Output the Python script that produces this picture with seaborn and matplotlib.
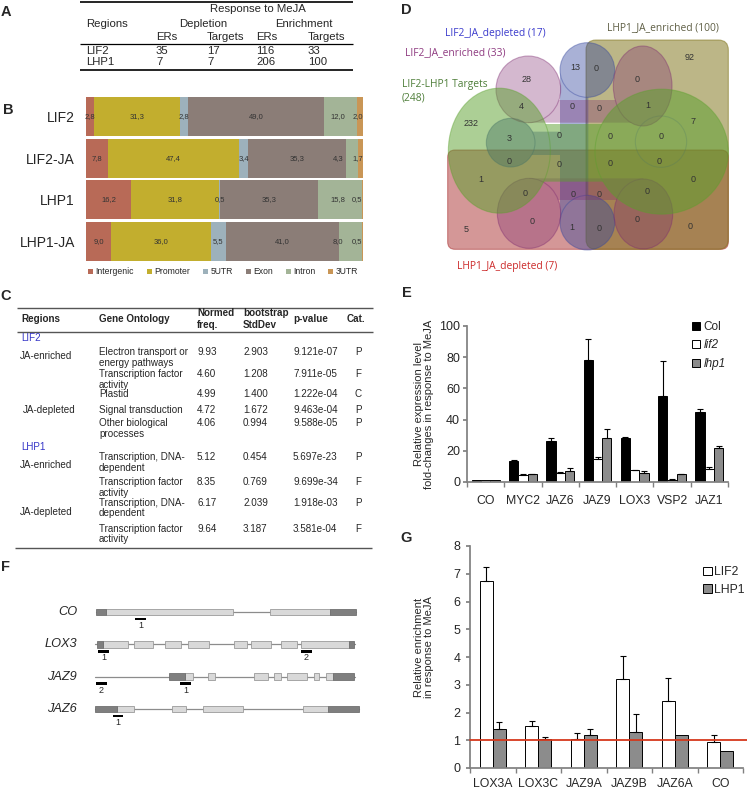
import numpy as np
import pandas as pd
import matplotlib
matplotlib.use("Agg")
import matplotlib.pyplot as plt
import seaborn as sns
from matplotlib.patches import Patch, Rectangle, FancyBboxPatch, PathPatch
from matplotlib.path import Path
from matplotlib.transforms import Affine2D

# ---------------- data ----------------
# A: enriched regions table
a_regions = ["LIF2", "LHP1"]
a_depl_ers = [35, 7]
a_depl_targets = [17, 7]
a_enr_ers = [116, 206]
a_enr_targets = [33, 100]

# B: genomic distribution (%)
b_samples = ["LIF2", "LIF2-JA", "LHP1", "LHP1-JA"]
b_features = ["Intergenic", "Promoter", "5UTR", "Exon", "Intron", "3UTR"]
b_intergenic = [2.8, 7.8, 16.2, 9.0]
b_promoter = [31.3, 47.4, 31.8, 36.0]
b_utr5 = [2.8, 3.4, 0.5, 5.5]
b_exon = [49.0, 35.3, 35.3, 41.0]
b_intron = [12.0, 4.3, 15.8, 8.0]
b_utr3 = [2.0, 1.7, 0.5, 0.5]
b_colors = ["#b86a57", "#c2ae2e", "#9db1bb", "#8b7d77", "#a3b497", "#c99656"]

# C: gene ontology table
c_groups = ["LIF2", "LHP1"]
c_subsets = ["JA-enriched", "JA-depleted", "JA-enriched", "JA-depleted"]
c_terms = ["Electron transport or\nenergy pathways", "Transcription factor\nactivity",
           "Plastid", "Signal transduction", "Other biological\nprocesses",
           "Transcription, DNA-\ndependent", "Transcription factor\nactivity",
           "Transcription, DNA-\ndependent", "Transcription factor\nactivity"]
c_normed = [9.93, 4.60, 4.99, 4.72, 4.06, 5.12, 8.35, 6.17, 9.64]
c_stddev = [2.903, 1.208, 1.400, 1.672, 0.994, 0.454, 0.769, 2.039, 3.187]
c_pvalue = [9.121e-07, 7.911e-05, 1.222e-04, 9.463e-04, 9.588e-05,
            5.697e-23, 9.699e-34, 1.918e-03, 3.581e-04]
c_cat = ["P", "F", "C", "P", "P", "P", "F", "P", "F"]

# D: venn diagram
venn_sets = ["LIF2_JA_depleted (17)", "LIF2_JA_enriched (33)", "LIF2-LHP1 Targets\n(248)",
             "LHP1_JA_enriched (100)", "LHP1_JA_depleted (7)"]
venn_counts = [13, 0, 92, 28, 0, 4, 0, 0, 1, 232, 7, 3, 0, 0, 0, 0,
               0, 0, 0, 1, 0, 0, 0, 0, 0, 5, 0, 1, 0, 0, 0]

# E: expression fold changes
e_genes = ["CO", "MYC2", "JAZ6", "JAZ9", "LOX3", "VSP2", "JAZ1"]
e_lines = ["Col", "lif2", "lhp1"]
e_col = [1.0, 13.5, 26.0, 78.5, 28.5, 55.0, 45.0]
e_col_err = [0, 0.4, 2.5, 13.0, 0.5, 22.5, 1.5]
e_lif2 = [1.0, 4.5, 6.0, 14.5, 7.5, 1.5, 8.5]
e_lif2_err = [0, 0.4, 0.5, 1.5, 0.4, 0.3, 1.2]
e_lhp1 = [1.0, 5.0, 7.0, 28.5, 5.5, 5.0, 21.5]
e_lhp1_err = [0, 0.3, 2.0, 5.5, 1.5, 0.3, 1.5]

# F: gene models (positions along drawn gene axis)
f_genes = ["CO", "LOX3", "JAZ9", "JAZ6"]
f_spans = [(96, 356), (95, 355), (95, 355), (95, 359)]
f_utrs = [[(96, 106), (330, 356)], [(97, 103), (349, 354)],
          [(169, 185), (333, 354)], [(95, 117), (328, 359)]]
f_exons = [[(106, 233), (270, 330)],
           [(103, 128), (134, 153), (165, 181), (188, 209), (234, 247), (251, 271), (281, 297), (301, 349)],
           [(185, 193), (208, 215), (254, 268), (274, 281), (287, 307), (314, 319), (326, 333)],
           [(117, 134), (172, 186), (203, 243), (303, 328)]]
f_amplicons = [[(135, 146, "1")], [(98, 109, "1"), (301, 312, "2")],
               [(96, 107, "2"), (180, 191, "1")], [(113, 123, "1")]]

# G: ChIP enrichment
g_regions = ["LOX3A", "LOX3C", "JAZ9A", "JAZ9B", "JAZ6A", "CO"]
g_proteins = ["LIF2", "LHP1"]
g_lif2 = [6.75, 1.5, 1.05, 3.2, 2.4, 0.95]
g_lif2_err = [0.5, 0.2, 0.2, 0.85, 0.85, 0.25]
g_lhp1 = [1.4, 1.05, 1.2, 1.3, 1.2, 0.6]
g_lhp1_err = [0.25, 0.08, 0.2, 0.65, 0, 0]

# ---------------- figure ----------------
sns.set_theme(style="ticks")
plt.rcParams["font.family"] = ["Liberation Sans", "DejaVu Sans"]

W, H = 747, 789
fig = plt.figure(figsize=(W / 100, H / 100), dpi=100)


def px_axes(x0, y0, x1, y1):
    return fig.add_axes([x0 / W, 1 - y1 / H, (x1 - x0) / W, (y1 - y0) / H])


canvas = px_axes(0, 0, W, H)
canvas.set_xlim(0, W)
canvas.set_ylim(H, 0)
canvas.axis("off")
canvas.set_zorder(10)
canvas.patch.set_visible(False)


def txt(x, y, s, **kw):
    kw.setdefault("va", "center")
    canvas.text(x, y, s, **kw)


def hline(y, x0, x1, lw=1.0, color="black"):
    canvas.plot([x0, x1], [y, y], color=color, lw=lw, solid_capstyle="butt")


for letter, (x, y) in zip("ABCDEFG", [(6, 12), (8, 110), (6, 296), (406, 10),
                                      (407, 293), (6, 567), (406, 538)]):
    txt(x, y, letter, ha="center", fontsize=10.5, fontweight="bold")

# ---- A ----
fa = 8.2
hline(1.5, 80, 353, lw=1.2)
txt(258, 9, "Response to MeJA", ha="center", fontsize=fa)
txt(86, 23.5, "Regions", fontsize=fa)
txt(203, 23.5, "Depletion", ha="center", fontsize=fa)
txt(304, 23.5, "Enrichment", ha="center", fontsize=fa)
col_x = [156, 207, 256, 308]
for x, s in zip(col_x, ["ERs", "Targets", "ERs", "Targets"]):
    txt(x, 37, s, fontsize=fa)
hline(44, 80, 353, lw=0.9)
for i, reg in enumerate(a_regions):
    y = 51 + 10.5 * i
    txt(86, y, reg, fontsize=fa)
    for x, v in zip(col_x, [a_depl_ers[i], a_depl_targets[i], a_enr_ers[i], a_enr_targets[i]]):
        txt(x, y, str(v), fontsize=fa)
hline(70, 80, 353, lw=1.2)

# ---- B ----
axB = px_axes(86, 96, 363, 262)
b_table = np.array([b_intergenic, b_promoter, b_utr5, b_exon, b_intron, b_utr3]).T
left = np.zeros(len(b_samples))
for j, (feat, c) in enumerate(zip(b_features, b_colors)):
    axB.barh(range(len(b_samples)), b_table[:, j], left=left, height=0.95, color=c,
             edgecolor="none", label=feat)
    left += b_table[:, j]
for i, row in enumerate(b_table):
    ends = np.cumsum(row)
    centers = ends - row / 2
    centers[-1] = min(centers[-1], 98.0)
    # push crowded labels to the left so they stay readable
    for j in range(len(centers) - 2, -1, -1):
        centers[j] = min(centers[j], centers[j + 1] - 7.0)
    for v, cx in zip(row, centers):
        axB.text(cx, i, f"{v:.1f}".replace(".", ","), ha="center", va="center",
                 fontsize=5.5, color="#333333")
axB.set_xlim(0, 100)
axB.set_ylim(3.5, -0.5)
axB.set_yticks(range(len(b_samples)))
axB.set_yticklabels(b_samples, fontsize=10)
axB.set_xticks([])
axB.tick_params(axis="y", length=0, pad=8)
for s in axB.spines.values():
    s.set_visible(False)
axB.legend(loc="upper left", bbox_to_anchor=(84 / W, 1 - 263 / H), bbox_transform=fig.transFigure,
           ncol=6, fontsize=6.2, handlelength=0.6, handleheight=0.6, handletextpad=0.25,
           columnspacing=1.5, frameon=False, borderpad=0)

# ---- C ----
fc = 7.1
hline(308, 17, 373, lw=1.0, color="#555555")
for s, x in [("Regions", 21), ("Gene Ontology", 99), ("Normed\nfreq.", 197),
             ("bootstrap\nStdDev", 243), ("p-value", 293), ("Cat.", 347)]:
    txt(x, 319, s, fontsize=fc, fontweight="bold", linespacing=1.15)
hline(332, 17, 373, lw=1.0, color="#555555")
for g, y in zip(c_groups, [337.5, 447]):
    txt(21, y, g, fontsize=fc, color="#3535c8")
for s, x, y in zip(c_subsets, [20, 23, 20, 20], [356, 410, 465, 512]):
    txt(x, y, s, fontsize=fc)
row_y = [352, 374, 394, 410, 423, 457, 482, 503, 529]
for i, y in enumerate(row_y):
    for k, line in enumerate(c_terms[i].split("\n")):
        txt(99, y + 10.5 * k, line, fontsize=fc)
    txt(197, y, f"{c_normed[i]:.2f}", fontsize=fc)
    txt(243, y, f"{c_stddev[i]:.3f}", fontsize=fc)
    txt(293, y, f"{c_pvalue[i]:.3e}", fontsize=fc)
    txt(358, y, c_cat[i], fontsize=fc, ha="center")
hline(548, 15, 372, lw=1.0, color="#555555")

# ---- D ----
axD = px_axes(380, 0, 747, 310)
axD.set_xlim(0, 1101)
axD.set_ylim(930, 0)
axD.axis("off")
axD.patch.set_visible(False)


def ell(cx, cy, w, h):
    return Affine2D().scale(w / 2, h / 2).translate(cx, cy).transform_path(Path.unit_circle())


def rct(x0, y0, x1, y1):
    return Affine2D().scale(x1 - x0, y1 - y0).translate(x0, y0).transform_path(Path.unit_rectangle())


def blob(parts, outlines, color, alpha=0.45):
    axD.add_patch(PathPatch(Path.make_compound_path(*parts), facecolor=color, edgecolor="none", alpha=alpha))
    for p in outlines:
        axD.add_patch(PathPatch(p, facecolor="none", edgecolor=color, alpha=0.4, lw=0.8))


set_colors = ["#34469e", "#7d2a70", "#5aa02c", "#7a6e10", "#a01818"]
axD.add_patch(FancyBboxPatch((203, 450), 842, 298, boxstyle="round,pad=0,rounding_size=22",
                             facecolor=set_colors[4], edgecolor=set_colors[4], alpha=0.45, lw=0.8))
axD.add_patch(FancyBboxPatch((618, 120), 427, 628, boxstyle="round,pad=0,rounding_size=30",
                             facecolor=set_colors[3], edgecolor=set_colors[3], alpha=0.5, lw=0.8))
bl = [ell(622, 210, 164, 164), ell(622, 668, 164, 164), ell(392, 428, 146, 146)]
blob(bl + [rct(540, 210, 625, 670), rct(392, 395, 545, 465)], bl, set_colors[0], alpha=0.42)
axD.add_patch(PathPatch(ell(843, 425, 154, 154), facecolor="none", edgecolor=set_colors[0], alpha=0.25, lw=0.8))
pu = [ell(445, 268, 194, 200), ell(788, 258, 176, 240), ell(447, 640, 190, 210), ell(790, 642, 176, 210)]
blob(pu + [rct(445, 300, 790, 368), rct(447, 535, 790, 600)], pu, set_colors[1], alpha=0.33)
gr = [ell(358, 452, 306, 375), ell(845, 455, 400, 375)]
blob(gr + [rct(358, 372, 845, 545)], gr, set_colors[2], alpha=0.5)

venn_xy = [(586, 203), (648, 205), (928, 172), (440, 237), (772, 240), (425, 320), (575, 320),
           (658, 325), (803, 318), (272, 372), (938, 365), (388, 415), (537, 405), (690, 410),
           (843, 410), (387, 483), (537, 493), (690, 490), (838, 485), (302, 540), (938, 540),
           (435, 580), (580, 583), (658, 583), (800, 575), (258, 690), (455, 665), (575, 682),
           (658, 685), (770, 658), (930, 680)]
for n, (x, y) in zip(venn_counts, venn_xy):
    axD.text(x, y, str(n), ha="center", va="center", fontsize=6.5, color="#333333")
label_colors = ["#3b3bcc", "#8e3a80", "#4f7f3a", "#5f5f45", "#cc2a2a"]
for s, (x, y), c in zip(venn_sets, [(195, 100), (75, 158), (65, 274), (680, 83), (232, 800)], label_colors):
    axD.text(x, y, s, ha="left", va="center", fontsize=7.4, color=c, family="Open Sans",
             linespacing=1.35)


def style_bars(ax):
    for side in ["top", "right"]:
        ax.spines[side].set_visible(False)
    for side in ["left", "bottom"]:
        ax.spines[side].set_color("#808080")
    ax.set_xlabel("")
    ax.set_ylabel("")
    ax.tick_params(axis="y", length=3, color="#808080", labelsize=9, pad=2)
    ax.tick_params(axis="x", which="major", length=0, labelsize=8.8)
    ax.tick_params(axis="x", which="minor", length=3.5, color="#808080")


def add_errs(ax, errs):
    for cont, err in zip(ax.containers, errs):
        xs = np.array([b.get_x() + b.get_width() / 2 for b in cont])
        hs = np.array([b.get_height() for b in cont])
        err = np.array(err, dtype=float)
        m = err > 0
        ax.errorbar(xs[m], hs[m], yerr=[np.zeros(m.sum()), err[m]], fmt="none", ecolor="black",
                    elinewidth=0.8, capsize=2.5, capthick=0.8)


# ---- E ----
axE = px_axes(467, 326, 728, 482)
df_e = pd.DataFrame({"gene": e_genes * 3,
                     "line": [l for l in e_lines for _ in e_genes],
                     "value": e_col + e_lif2 + e_lhp1})
pal_e = {"Col": "black", "lif2": "white", "lhp1": "#8c8c8c"}
sns.barplot(data=df_e, x="gene", y="value", hue="line", palette=pal_e, width=0.75, saturation=1,
            edgecolor="black", linewidth=0.7, errorbar=None, legend=False, ax=axE)
add_errs(axE, [e_col_err, e_lif2_err, e_lhp1_err])
axE.set_xlim(-0.5, len(e_genes) - 0.5)
axE.set_ylim(0, 100)
axE.set_yticks(range(0, 101, 20))
axE.set_xticks(np.arange(-0.5, len(e_genes), 1), minor=True)
style_bars(axE)
axE.tick_params(axis="x", which="major", pad=9)
txt(424, 404, "Relative expression level\nfold-changes in response to MeJA", ha="center",
    rotation=90, fontsize=8, linespacing=1.05)
legE = axE.legend([Patch(facecolor=pal_e[l], edgecolor="black", lw=0.7) for l in e_lines], e_lines,
                  loc="upper left", bbox_to_anchor=(686 / W, 1 - 315 / H), bbox_transform=fig.transFigure,
                  frameon=False, fontsize=8.5, handlelength=0.7, handleheight=0.7, handletextpad=0.3,
                  labelspacing=0.55, borderpad=0)
for t in legE.get_texts()[1:]:
    t.set_style("italic")

# ---- G ----
axG = px_axes(470, 546, 743, 768)
df_g = pd.DataFrame({"region": g_regions * 2,
                     "protein": [p for p in g_proteins for _ in g_regions],
                     "value": g_lif2 + g_lhp1})
pal_g = {"LIF2": "white", "LHP1": "#8c8c8c"}
sns.barplot(data=df_g, x="region", y="value", hue="protein", palette=pal_g, width=0.58, saturation=1,
            edgecolor="black", linewidth=0.7, errorbar=None, legend=False, ax=axG)
add_errs(axG, [g_lif2_err, g_lhp1_err])
axG.axhline(1, xmin=0, xmax=1.015, color="#d5381c", lw=1.3, clip_on=False, zorder=5)
axG.set_xlim(-0.5, len(g_regions) - 0.5)
axG.set_ylim(0, 8)
axG.set_yticks(range(0, 9))
axG.set_xticks(np.arange(-0.5, len(g_regions), 1), minor=True)
style_bars(axG)
axG.tick_params(axis="y", pad=4)
axG.tick_params(axis="x", which="major", pad=7)
txt(424, 647, "Relative enrichment\nin response to MeJA", ha="center", rotation=90, fontsize=8,
    linespacing=1.05)
axG.legend([Patch(facecolor=pal_g[p], edgecolor="black", lw=0.7) for p in g_proteins], g_proteins,
           loc="upper left", bbox_to_anchor=(697 / W, 1 - 560 / H), bbox_transform=fig.transFigure,
           frameon=False, fontsize=8.8, handlelength=0.7, handleheight=0.7, handletextpad=0.2,
           labelspacing=0.45, borderpad=0)

# ---- F ----
axF = px_axes(60, 596, 380, 730)
axF.set_xlim(60, 380)
axF.set_ylim(3.65, -0.495)
axF.axis("off")
axF.patch.set_visible(False)
bh = 0.2
for i, name in enumerate(f_genes):
    axF.plot(f_spans[i], [i, i], color="#8c8c8c", lw=0.9, zorder=1)
    for a, b in f_exons[i]:
        axF.add_patch(Rectangle((a, i - bh / 2), b - a, bh, facecolor="#d9d9d9", edgecolor="#9a9a9a",
                                lw=0.6, zorder=2))
    for a, b in f_utrs[i]:
        axF.add_patch(Rectangle((a, i - bh / 2), b - a, bh, facecolor="#7f7f7f", edgecolor="#707070",
                                lw=0.6, zorder=2))
    for a, b, lab in f_amplicons[i]:
        axF.add_patch(Rectangle((a, i + 0.18), b - a, 0.08, facecolor="black", edgecolor="none", zorder=3))
        axF.text((a + b) / 2, i + 0.42, lab, ha="center", va="center", fontsize=6.5)
    axF.text(77, i, name, ha="right", va="center", style="italic", fontsize=9.2)

fig.savefig("out.png", dpi=100)
